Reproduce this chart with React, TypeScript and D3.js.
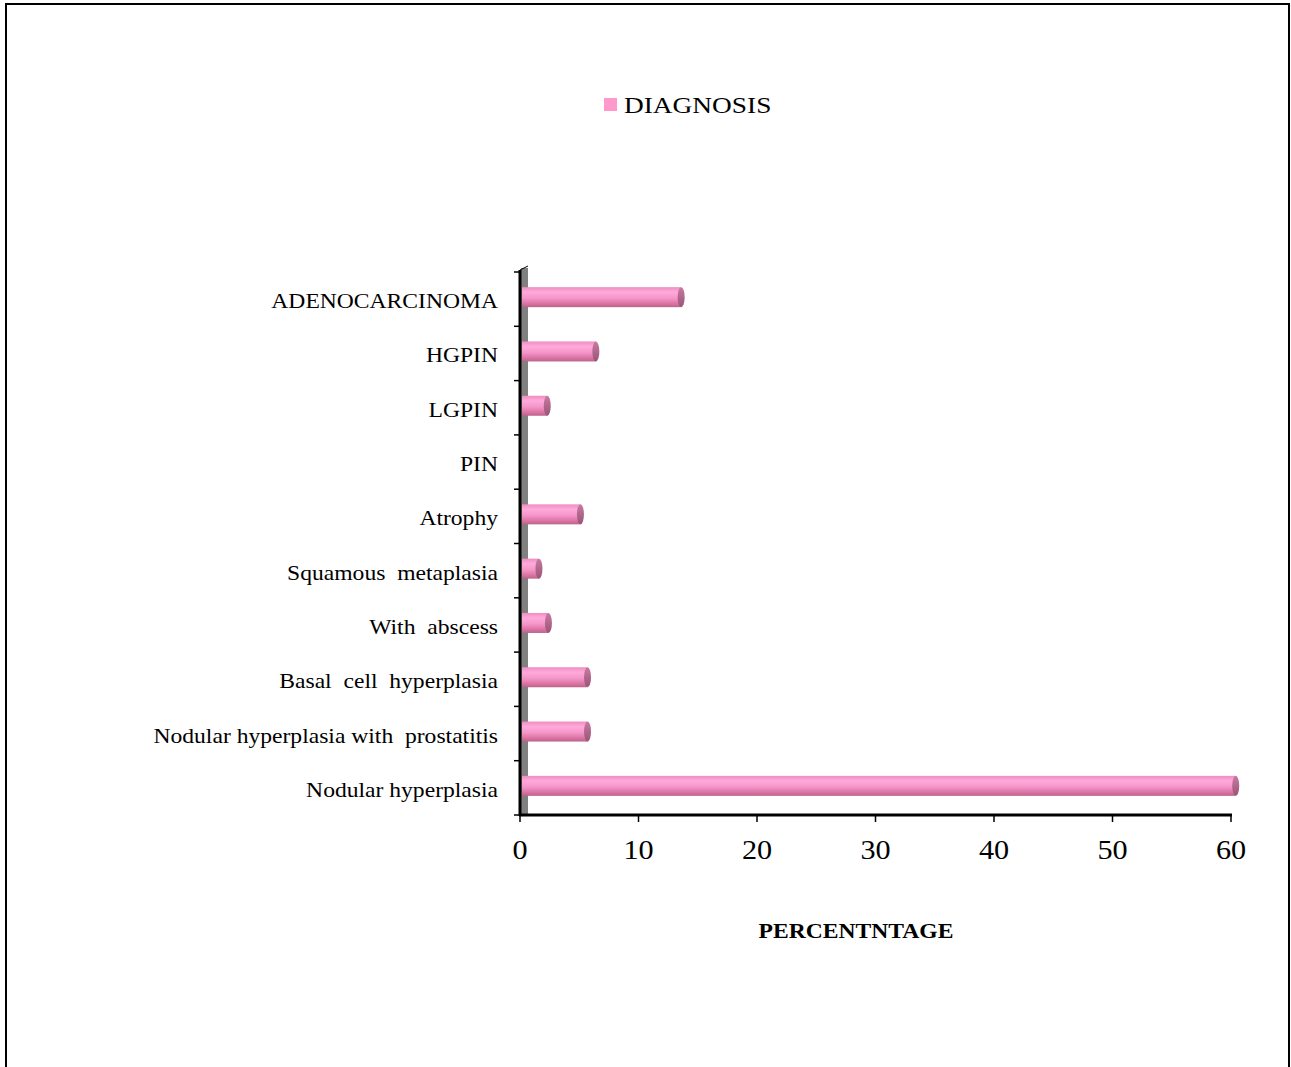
import React from "react";
import * as d3 from "d3";

const categories = [
  "ADENOCARCINOMA",
  "HGPIN",
  "LGPIN",
  "PIN",
  "Atrophy",
  "Squamous  metaplasia",
  "With  abscess",
  "Basal  cell  hyperplasia",
  "Nodular hyperplasia with  prostatitis",
  "Nodular hyperplasia",
];
const values = [13.6, 6.4, 2.3, 0, 5.1, 1.6, 2.4, 5.7, 5.7, 60.4];
const xTicks = [0, 10, 20, 30, 40, 50, 60];
const seriesName = "DIAGNOSIS";
const axisTitle = "PERCENTNTAGE";

const font = "'Liberation Serif', 'Times New Roman', serif";

function SText(props: { x: number; y: number; sx: number; size: number; anchor?: string; bold?: boolean; children: React.ReactNode }) {
  return (
    <text
      transform={`translate(${props.x},${props.y}) scale(${props.sx},1)`}
      textAnchor={props.anchor || "start"}
      fontFamily={font}
      fontSize={props.size}
      fontWeight={props.bold ? "bold" : "normal"}
      fill="#000"
      style={{ whiteSpace: "pre" }}
    >
      {props.children}
    </text>
  );
}

export default function App() {
  const W = 1291, H = 1067;
  const x = d3.scaleLinear().domain([0, 60]).range([520, 1231]);
  const y = d3.scaleBand().domain(categories).range([272, 815]).paddingInner(0).paddingOuter(0);
  const barH = 20;
  return (
    <svg width={W} height={H} style={{ position: "absolute", left: 0, top: 0, background: "#fff" }}>
      <defs>
        <linearGradient id="barGrad" x1="0" y1="0" x2="0" y2="1">
          <stop offset="0" stopColor="#f08cc0" />
          <stop offset="0.25" stopColor="#ffaadb" />
          <stop offset="0.55" stopColor="#f596c9" />
          <stop offset="0.85" stopColor="#d8709f" />
          <stop offset="1" stopColor="#b8648a" />
        </linearGradient>
        <linearGradient id="capGrad" x1="0" y1="0" x2="0" y2="1">
          <stop offset="0" stopColor="#c87aa0" />
          <stop offset="1" stopColor="#9a5478" />
        </linearGradient>
      </defs>
      {/* outer border */}
      <rect x={6} y={4} width={1283} height={1070} fill="none" stroke="#000" strokeWidth={2} />
      {/* legend */}
      <rect x={604} y={98} width={13} height={13} fill="#ff99cc" />
      <SText x={624} y={113} sx={1.14} size={24}>{seriesName}</SText>
      {/* 3D wall */}
      <rect x={521} y={268} width={7} height={547} fill="#808080" />
      <line x1={520} x2={520} y1={270} y2={816} stroke="#000" strokeWidth={3} />
      <line x1={520} x2={528} y1={270} y2={266} stroke="#000" strokeWidth={1} />
      {/* y ticks */}
      {categories.map((c, i) => (
        <line key={"yt" + i} x1={514} x2={520} y1={y(c)!} y2={y(c)!} stroke="#000" strokeWidth={1.5} />
      ))}
      <line x1={514} x2={520} y1={815} y2={815} stroke="#000" strokeWidth={1.5} />
      {/* x axis */}
      <line x1={519} x2={1232} y1={815} y2={815} stroke="#000" strokeWidth={3} />
      {xTicks.map((t) => (
        <g key={"xt" + t}>
          <line x1={x(t)} x2={x(t)} y1={815} y2={822} stroke="#000" strokeWidth={1.5} />
          <SText x={x(t)} y={859} sx={1.12} size={27} anchor="middle">{String(t)}</SText>
        </g>
      ))}
      {/* bars */}
      {categories.map((c, i) => {
        const v = values[i];
        if (v <= 0) return null;
        const cy = y(c)! + y.bandwidth() / 2 - 2;
        const x0 = 522;
        const x1 = x(v);
        return (
          <g key={"b" + i}>
            <rect x={x0} y={cy - barH / 2} width={x1 - x0} height={barH} fill="url(#barGrad)" />
            <ellipse cx={x1} cy={cy} rx={3.5} ry={barH / 2} fill="url(#capGrad)" />
          </g>
        );
      })}
      {/* category labels */}
      {categories.map((c, i) => (
        <SText key={"l" + i} x={498} y={y(c)! + y.bandwidth() / 2 + 9} sx={1.18} size={20} anchor="end">
          {c}
        </SText>
      ))}
      {/* axis title */}
      <SText x={856} y={938} sx={1.18} size={20} anchor="middle" bold>{axisTitle}</SText>
    </svg>
  );
}
